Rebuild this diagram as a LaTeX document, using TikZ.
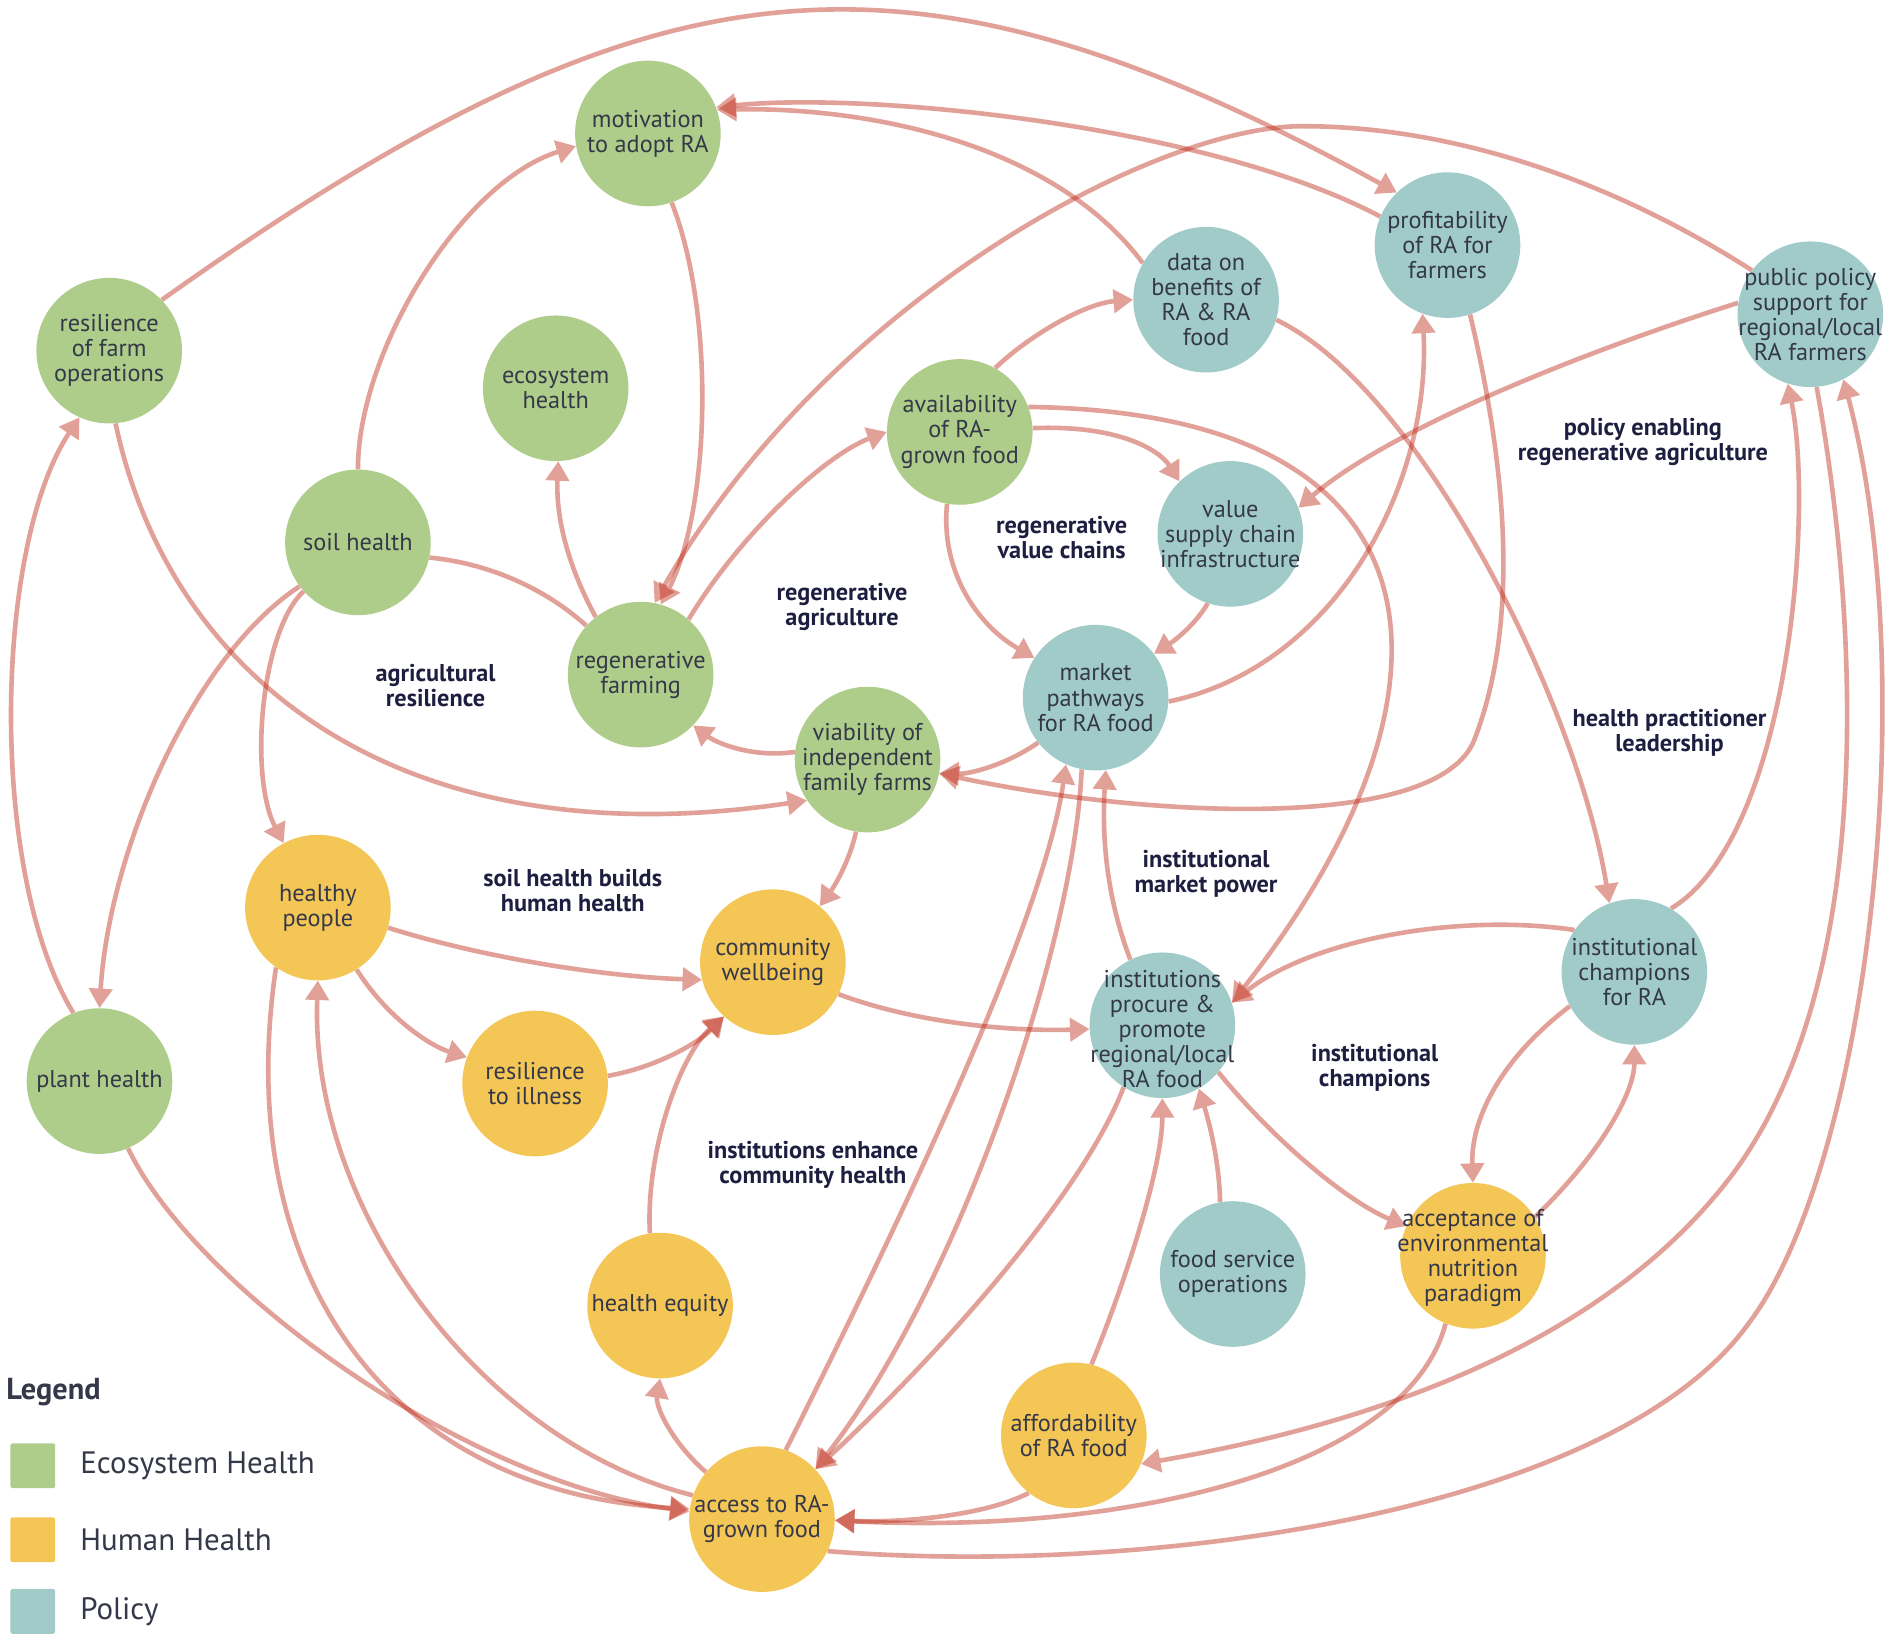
\documentclass[tikz,border=0pt]{standalone}
\usepackage{fontspec}
\setmainfont{PT Sans}
\usetikzlibrary{arrows.meta,backgrounds}
\definecolor{ecoC}{RGB}{174,205,138}
\definecolor{humC}{RGB}{244,198,86}
\definecolor{polC}{RGB}{160,203,200}
\definecolor{edgeC}{RGB}{190,40,20}
\definecolor{txtC}{RGB}{52,56,72}
\definecolor{lblC}{RGB}{30,30,64}
\newcommand\lnk[2][link]{\begin{scope}[transparency group,opacity=0.44]\draw[#1] #2;\end{scope}}
\begin{document}
\begin{tikzpicture}[x=1pt,y=-1pt,
  circ/.style={circle, minimum size=120pt, inner sep=0pt, draw=none},
  eh/.style={circ, fill=ecoC},
  hh/.style={circ, fill=humC},
  po/.style={circ, fill=polC},
  ntxt/.style={align=center, text=txtC, font=\fontsize{20}{20.7}\selectfont, inner sep=0pt},
  lbl/.style={align=center, text=lblC, font=\bfseries\fontsize{20}{20.5}\selectfont, inner sep=0pt},
  plainlink/.style={draw=edgeC, line width=3.8pt},
  link/.style={plainlink, -{Triangle[length=16pt,width=19pt]}},
  legtxt/.style={anchor=west, inner sep=0pt, text=txtC, font=\fontsize{25.5}{28}\selectfont},
  legbox/.style={minimum size=37pt, inner sep=0pt, rounded corners=2pt}
]
\useasboundingbox (0,0) rectangle (1567.6,1350);

% nodes
\node[eh] (mot) at (534,110) {};
\node[eh] (rfo) at (90,289) {};
\node[eh] (eco) at (458,320) {};
\node[eh] (soil) at (295,447) {};
\node[eh] (regf) at (528,556) {};
\node[eh] (avail) at (791,356) {};
\node[po] (data) at (994,247) {};
\node[po] (prof) at (1193,202) {};
\node[po] (pub) at (1492,259) {};
\node[po] (vsc) at (1014,440) {};
\node[po] (mkt) at (903,575) {};
\node[eh] (viab) at (715,626) {};
\node[hh] (hp) at (262,748) {};
\node[hh] (cw) at (637,793) {};
\node[hh] (ri) at (441,893) {};
\node[eh] (ph) at (82,891) {};
\node[po] (inst) at (958,845) {};
\node[po] (champ) at (1347,801) {};
\node[po] (fso) at (1016,1050) {};
\node[hh] (acc) at (1214,1035) {};
\node[hh] (he) at (544,1076) {};
\node[hh] (aff) at (885,1183) {};
\node[hh] (access) at (628,1252) {};

\node[ntxt] (t-mot) at (mot) {motivation\\to adopt RA};
\node[ntxt] (t-rfo) at (rfo) {resilience\\of farm\\operations};
\node[ntxt] (t-eco) at (eco) {ecosystem\\health};
\node[ntxt] (t-soil) at (soil) {soil health};
\node[ntxt] (t-regf) at (regf) {regenerative\\farming};
\node[ntxt] (t-avail) at (avail) {availability\\of RA-\\grown food};
\node[ntxt] (t-data) at (data) {data on\\benefits of\\RA \& RA\\food};
\node[ntxt] (t-prof) at (prof) {profitability\\of RA for\\farmers};
\node[ntxt] (t-pub) at (pub) {public policy\\support for\\regional/local\\RA farmers};
\node[ntxt] (t-vsc) at (vsc) {value\\supply chain\\infrastructure};
\node[ntxt] (t-mkt) at (mkt) {market\\pathways\\for RA food};
\node[ntxt] (t-viab) at (viab) {viability of\\independent\\family farms};
\node[ntxt] (t-hp) at (hp) {healthy\\people};
\node[ntxt] (t-cw) at (cw) {community\\wellbeing};
\node[ntxt] (t-ri) at (ri) {resilience\\to illness};
\node[ntxt] (t-ph) at (ph) {plant health};
\node[ntxt] (t-inst) at ([yshift=-3pt]inst.center) {institutions\\procure \&\\promote\\regional/local\\RA food};
\node[ntxt] (t-champ) at (champ) {institutional\\champions\\for RA};
\node[ntxt] (t-fso) at (fso) {food service\\operations};
\node[ntxt] (t-acc) at ([yshift=-2pt]acc.center) {acceptance of\\environmental\\nutrition\\paradigm};
\node[ntxt] (t-he) at (he) {health equity};
\node[ntxt] (t-aff) at (aff) {affordability\\of RA food};
\node[ntxt] (t-access) at (access) {access to RA-\\grown food};

% labels
\node[lbl] (l-agr) at (359,565) {agricultural\\resilience};
\node[lbl] (l-rega) at (694,500) {regenerative\\agriculture};
\node[lbl] (l-regv) at (875,443) {regenerative\\value chains};
\node[lbl] (l-pol) at (1354,364) {policy enabling\\regenerative agriculture};
\node[lbl] (l-hpl) at (1376,604) {health practitioner\\leadership};
\node[lbl] (l-shb) at (472,734) {soil health builds\\human health};
\node[lbl] (l-imp) at (994,720) {institutional\\market power};
\node[lbl] (l-ich) at (1133,880) {institutional\\champions};
\node[lbl] (l-iec) at (670,960) {institutions enhance\\community health};

% legend
\node[anchor=west, inner sep=0pt, text=txtC, font=\bfseries\fontsize{25}{26}\selectfont] (leg) at (5,1147) {Legend};
\node[legbox, fill=ecoC] (lb1) at (27,1208) {};
\node[legbox, fill=humC] (lb2) at (27,1269) {};
\node[legbox, fill=polC] (lb3) at (27,1328) {};
\node[legtxt] (lt1) at (66,1208) {Ecosystem Health};
\node[legtxt] (lt2) at (66,1269) {Human Health};
\node[legtxt] (lt3) at (66,1328) {Policy};

\begin{scope}[on background layer]
\lnk{(rfo.44) .. controls (538,-40) and (743,-65) .. (prof.134)}
\lnk{(prof.157) .. controls (1000,105) and (720,75) .. (mot.21)}
\lnk{(data.150) .. controls (870,120) and (720,88) .. (mot.19)}
\lnk{(mot.289) .. controls (590,260) and (585,420) .. (regf.74)}
\lnk{(soil.90) .. controls (295,290) and (380,150) .. (mot.190)}
\lnk{(regf.128) .. controls (470,470) and (458,430) .. (eco.272)}
\lnk[plainlink]{(soil.348) .. controls (410,465) and (455,490) .. (regf.138)}
\lnk{(regf.49) .. controls (610,440) and (680,375) .. (avail.180)}
\lnk{(pub.143) .. controls (1330,150) and (1200,104) .. (1073,104) .. controls (950,104) and (680,250) .. (regf.79)}
\lnk{(avail.61) .. controls (850,275) and (895,250) .. (data.180)}
\lnk{(avail.3) .. controls (920,350) and (955,370) .. (vsc.134)}
\lnk{(avail.260) .. controls (775,470) and (805,515) .. (mkt.147)}
\lnk{(avail.20) .. controls (1210,340) and (1210,580) .. (inst.18)}
\lnk{(data.344) .. controls (1170,320) and (1300,580) .. (champ.110)}
\lnk{(prof.288) .. controls (1245,400) and (1250,520) .. (1215,610) .. controls (1185,685) and (950,675) .. (viab.349)}
\lnk{(mkt.357) .. controls (1100,550) and (1180,400) .. (prof.250)}
\lnk{(pub.171) .. controls (1320,285) and (1150,350) .. (vsc.21)}
\lnk{(vsc.252) .. controls (985,515) and (968,528) .. (mkt.37)}
\lnk{(mkt.218) .. controls (830,630) and (800,638) .. (viab.349)}
\lnk{(viab.174) .. controls (620,625) and (590,612) .. (regf.316)}
\lnk{(rfo.275) .. controls (140,560) and (330,710) .. (viab.214)}
\lnk{(soil.217) .. controls (160,540) and (90,700) .. (ph.90)}
\lnk{(soil.222) .. controls (215,520) and (205,640) .. (hp.118)}
\lnk{(ph.111) .. controls (-10,720) and (-5,450) .. (rfo.246)}
\lnk{(viab.261) .. controls (700,710) and (688,730) .. (cw.50)}
\lnk{(hp.344) .. controls (400,790) and (500,805) .. (cw.194)}
\lnk{(hp.302) .. controls (320,840) and (355,862) .. (ri.159)}
\lnk{(ri.6) .. controls (540,880) and (575,860) .. (cw.228)}
\lnk{(he.98) .. controls (532,950) and (560,870) .. (cw.228)}
\lnk{(cw.334) .. controls (760,845) and (840,850) .. (inst.183)}
\lnk{(access.71) .. controls (740,1010) and (860,760) .. (mkt.246)}
\lnk{(mkt.259) .. controls (885,780) and (790,1060) .. (access.43)}
\lnk{(inst.116) .. controls (912,740) and (908,690) .. (mkt.278)}
\lnk{(inst.238) .. controls (890,990) and (760,1130) .. (access.43)}
\lnk{(inst.320) .. controls (1050,940) and (1110,990) .. (acc.156)}
\lnk{(fso.100) .. controls (1005,960) and (998,930) .. (inst.300)}
\lnk{(aff.76) .. controls (930,1050) and (958,960) .. (inst.270)}
\lnk{(champ.145) .. controls (1200,752) and (1080,775) .. (inst.18)}
\lnk{(champ.208) .. controls (1240,870) and (1212,920) .. (acc.90)}
\lnk{(acc.32) .. controls (1320,950) and (1347,900) .. (champ.270)}
\lnk{(champ.60) .. controls (1475,690) and (1495,420) .. (pub.252)}
\lnk{(pub.275) .. controls (1530,500) and (1550,800) .. (1430,965) .. controls (1330,1100) and (1150,1170) .. (aff.337)}
\lnk{(access.334) .. controls (950,1300) and (1330,1245) .. (1441,1091) .. controls (1540,960) and (1585,560) .. (pub.297)}
\lnk{(acc.248) .. controls (1160,1210) and (930,1265) .. (access.359)}
\lnk{(aff.232) .. controls (810,1250) and (740,1255) .. (access.359)}
\lnk{(hp.235) .. controls (190,1050) and (320,1230) .. (access.172)}
\lnk{(access.161) .. controls (400,1190) and (255,1000) .. (hp.270)}
\lnk{(ph.293) .. controls (160,1060) and (380,1220) .. (access.174)}
\lnk{(access.140) .. controls (555,1190) and (540,1160) .. (he.270)}
\end{scope}
\end{tikzpicture}
\end{document}
